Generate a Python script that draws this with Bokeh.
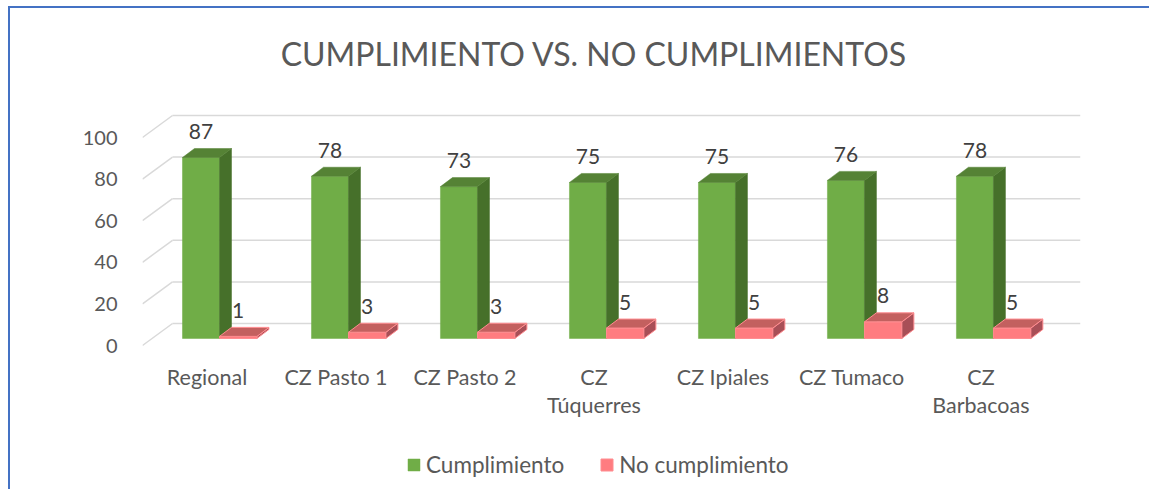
from bokeh.plotting import figure
from bokeh.models import Range1d, FixedTicker, Legend, LegendItem, ColumnDataSource
from bokeh.core.properties import value
from bokeh.embed import file_html
from bokeh.resources import INLINE

# ---------------- data ----------------
title_text = "CUMPLIMIENTO VS. NO CUMPLIMIENTOS"
categories = ["Regional", "CZ Pasto 1", "CZ Pasto 2", "CZ Túquerres",
              "CZ Ipiales", "CZ Tumaco", "CZ Barbacoas"]
tick_labels = ["Regional", "CZ Pasto 1", "CZ Pasto 2", "CZ\nTúquerres",
               "CZ Ipiales", "CZ Tumaco", "CZ\nBarbacoas"]
cumplimiento = [87, 78, 73, 75, 75, 76, 78]
no_cumplimiento = [1, 3, 3, 5, 5, 8, 5]
y_ticks = [0, 20, 40, 60, 80, 100]

# ---------------- style / geometry ----------------
FONT = "Lato"
TXT = "#595959"
KX, KY = 129.0, 2.08            # px per data unit (only to convert pixel offsets)
DX, DY = 30 / KX, 22 / KY       # full floor depth
F0 = 0.32                       # bars front depth fraction
BDX, BDY = 12 / KX, 9 / KY      # bar own depth
BASE = F0 * DY
G_OFF, W = 0.31, 0.287
X_END = 7.27

G_FRONT, G_SIDE, G_TOP = "#70AD47", "#46702A", "#558235"
R_FRONT, R_SIDE, R_TOP = "#FF7C80", "#A84F57", "#C3605F"

n = len(categories)

FRAME_H = 481
Y_TOP = 337 / KY
Y_BOT = -(FRAME_H - 337) / KY


def faces(x0s, vals, w):
    fx0 = x0s
    fx1 = [x + w for x in x0s]
    top = [v + BASE for v in vals]
    side_xs = [[a, a + BDX, a + BDX, a] for a in fx1]
    side_ys = [[BASE, BASE + BDY, t + BDY, t] for t in top]
    top_xs = [[a, b, b + BDX, a + BDX] for a, b in zip(fx0, fx1)]
    top_ys = [[t, t, t + BDY, t + BDY] for t in top]
    return fx0, fx1, top, side_xs, side_ys, top_xs, top_ys


p = figure(frame_width=970, frame_height=FRAME_H, output_backend="svg",
           toolbar_location=None, title=None, x_axis_location=None,
           x_range=Range1d(0, 7.52), y_range=Range1d(Y_BOT, Y_TOP),
           min_border_left=132, min_border_right=37, min_border_top=0,
           min_border_bottom=0)
p.styles = {"border-left": "2px solid #4472C4", "border-top": "2px solid #4472C4",
            "margin-left": "8px", "margin-top": "6px"}
p.outline_line_color = None
p.xgrid.visible = False
p.ygrid.visible = False

# title
p.text(x=[3.5], y=[(343 - 51) / KY], text=[title_text],
       text_align="center", text_baseline="middle", text_font=value(FONT),
       text_font_size="32px", text_color=TXT)

# gridlines (back wall + floor diagonals)
p.segment(x0=[DX] * len(y_ticks), y0=[t + DY for t in y_ticks],
          x1=[X_END] * len(y_ticks), y1=[t + DY for t in y_ticks],
          line_color="#D9D9D9", line_width=1.5)
p.segment(x0=[0] * len(y_ticks), y0=y_ticks,
          x1=[DX] * len(y_ticks), y1=[t + DY for t in y_ticks],
          line_color="#D9D9D9", line_width=1.5)

# bars
gx0 = [i + G_OFF for i in range(n)]
rx0 = [x + W for x in gx0]

g = faces(gx0, cumplimiento, W)
r = faces(rx0, no_cumplimiento, W + 0.003)

g_r = p.quad(left=g[0], right=g[1], bottom=[BASE] * n, top=g[2],
             fill_color=G_FRONT, line_color=G_FRONT, line_width=0.5)
p.patches(g[3], g[4], fill_color=G_SIDE, line_color=G_SIDE, line_width=0.5)
p.patches(g[5], g[6], fill_color=G_TOP, line_color=G_TOP, line_width=0.5)

r_r = p.quad(left=r[0], right=r[1], bottom=[BASE] * n, top=r[2],
             fill_color=R_FRONT, line_color="#FF8C90", line_width=1)
p.patches(r[3], r[4], fill_color=R_SIDE, line_color="#FF8C90", line_width=1)
p.patches(r[5], r[6], fill_color=R_TOP, line_color="#FF8C90", line_width=1)

# data labels
LBL = 17 / KY + BDY
src_g = ColumnDataSource(dict(x=[(a + b) / 2 for a, b in zip(g[0], g[1])],
                              y=[t + LBL for t in g[2]],
                              t=[str(v) for v in cumplimiento]))
src_r = ColumnDataSource(dict(x=[(a + b) / 2 for a, b in zip(r[0], r[1])],
                              y=[t + LBL for t in r[2]],
                              t=[str(v) for v in no_cumplimiento]))
for s in (src_g, src_r):
    p.text(x="x", y="y", text="t", source=s, text_align="center",
           text_baseline="middle", text_font_size="21px",
           text_font=value(FONT), text_color="#404040")

# category labels (two rows)
xt = [i + 0.5 for i in range(n)]
line1 = [lab.split("\n")[0] for lab in tick_labels]
line2 = [lab.split("\n")[1] if "\n" in lab else "" for lab in tick_labels]
p.text(x=xt, y=[-31 / KY] * n, text=line1, text_align="center",
       text_baseline="middle", text_font=value(FONT), text_font_size="21.5px",
       text_color=TXT)
p.text(x=xt, y=[-59 / KY] * n, text=line2, text_align="center",
       text_baseline="middle", text_font=value(FONT), text_font_size="21.5px",
       text_color=TXT)

# y axis
p.yaxis.ticker = FixedTicker(ticks=y_ticks)
p.yaxis.axis_line_color = None
p.yaxis.major_tick_line_color = None
p.yaxis.minor_tick_line_color = None
p.yaxis.major_label_standoff = 19
p.yaxis.major_label_text_font = FONT
p.yaxis.major_label_text_font_size = "20px"
p.yaxis.major_label_text_color = TXT

# legend (inside the frame, bottom area)
legend = Legend(items=[LegendItem(label="Cumplimiento", renderers=[g_r]),
                       LegendItem(label="No cumplimiento", renderers=[r_r])],
                orientation="horizontal", location=(264, 11),
                glyph_width=15, glyph_height=15, label_standoff=5, spacing=35,
                label_height=26,
                label_text_font=FONT, label_text_font_size="22.5px",
                label_text_color=TXT, border_line_color=None,
                background_fill_alpha=0, margin=0, padding=0)
p.add_layout(legend)

open("out.html", "w").write(file_html(p, INLINE))
